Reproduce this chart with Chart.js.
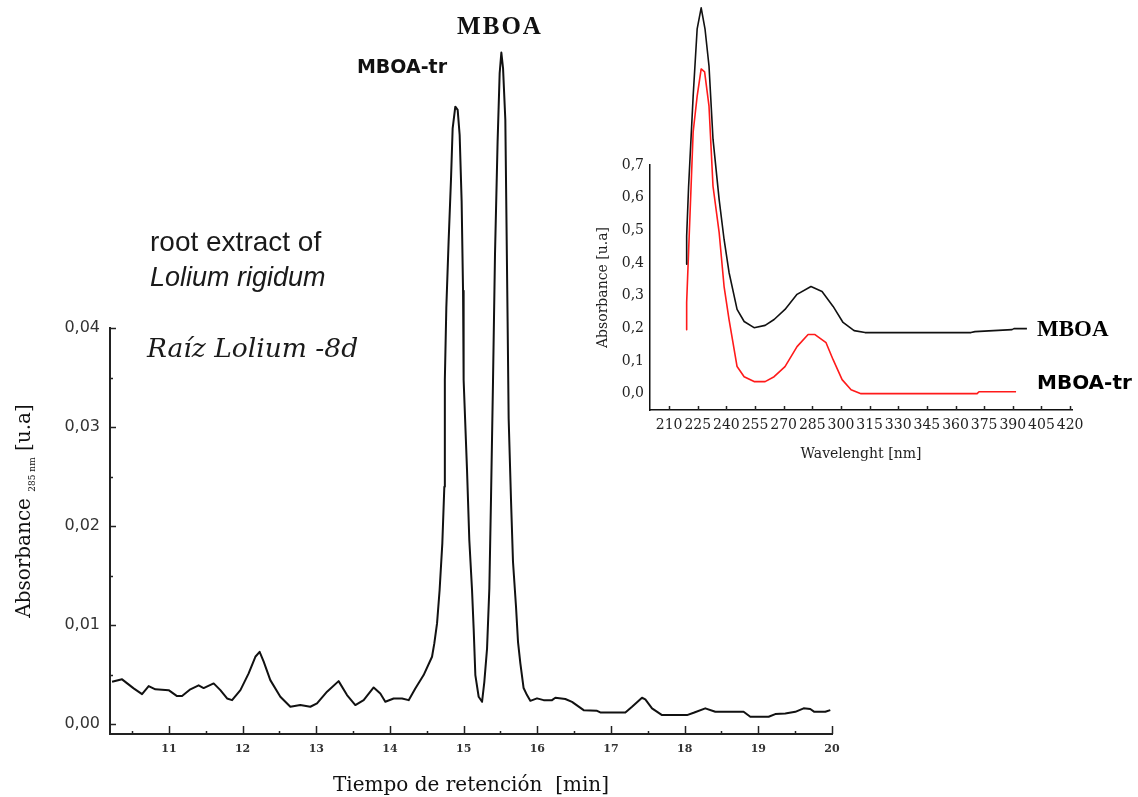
<!DOCTYPE html>
<html>
<head>
<meta charset="utf-8">
<script src="https://cdn.jsdelivr.net/npm/chart.js@4.4.1/dist/chart.umd.min.js"></script>
<style>
  html, body { margin: 0; padding: 0; background: #ffffff; }
  #wrap { position: relative; width: 1138px; height: 797px; overflow: hidden; }
  #main { position: absolute; left: 0; top: 0; }
  #inset { position: absolute; left: 580px; top: 0; }
</style>
</head>
<body>
<div id="wrap">
  <canvas id="main" width="1138" height="797"></canvas>
  <canvas id="inset" width="558" height="480"></canvas>
</div>
<script>
// ---- Chromatogram at 285 nm: retention time [min] and absorbance [u.a] ----
const retentionMin = [
  10.228, 10.364, 10.521, 10.635, 10.725, 10.816, 10.996, 11.110, 11.178, 11.291,
  11.403, 11.471, 11.607, 11.698, 11.789, 11.857, 11.970, 12.082, 12.173, 12.231,
  12.286, 12.376, 12.512, 12.648, 12.783, 12.919, 13.010, 13.146, 13.303, 13.417,
  13.530, 13.643, 13.779, 13.869, 13.937, 14.050, 14.164, 14.254, 14.344, 14.457,
  14.571, 14.602, 14.639, 14.674, 14.711, 14.738, 14.745, 14.765, 14.796, 14.829,
  14.851, 14.887, 14.919, 14.946, 14.973, 14.992, 15.000, 15.046, 15.077, 15.114,
  15.136, 15.159, 15.204, 15.250, 15.281, 15.318, 15.349, 15.372, 15.399, 15.426,
  15.461, 15.489, 15.512, 15.535, 15.566, 15.597, 15.611, 15.643, 15.670, 15.711,
  15.738, 15.770, 15.814, 15.860, 15.905, 15.996, 16.086, 16.200, 16.245, 16.380,
  16.471, 16.629, 16.811, 16.855, 17.195, 17.286, 17.421, 17.466, 17.557, 17.693,
  18.032, 18.122, 18.280, 18.416, 18.800, 18.891, 19.140, 19.230, 19.366, 19.502,
  19.615, 19.705, 19.760, 19.909, 19.977
];
const absorbance285 = [
  0.00427, 0.00452, 0.00361, 0.00303, 0.00384, 0.00351, 0.00343, 0.00283, 0.00283, 0.00351,
  0.00391, 0.00364, 0.00411, 0.00343, 0.00259, 0.00242, 0.00343, 0.00512, 0.00680, 0.00730,
  0.00630, 0.00444, 0.00276, 0.00175, 0.00192, 0.00175, 0.00209, 0.00327, 0.00434, 0.00293,
  0.00192, 0.00242, 0.00370, 0.00310, 0.00226, 0.00259, 0.00259, 0.00242, 0.00360, 0.00495,
  0.00680, 0.00815, 0.01017, 0.01354, 0.01828, 0.02397, 0.03475, 0.04202, 0.04872, 0.05512,
  0.06017, 0.06235, 0.06202, 0.05949, 0.05276, 0.04377, 0.03475, 0.02566, 0.01859, 0.01354,
  0.00967, 0.00495, 0.00276, 0.00225, 0.00427, 0.00765, 0.01371, 0.02296, 0.03475, 0.04754,
  0.05882, 0.06573, 0.06781, 0.06623, 0.06101, 0.04064, 0.03088, 0.02263, 0.01639, 0.01185,
  0.00831, 0.00613, 0.00364, 0.00293, 0.00235, 0.00260, 0.00242, 0.00242, 0.00266, 0.00253,
  0.00225, 0.00141, 0.00134, 0.00118, 0.00118, 0.00175, 0.00266, 0.00249, 0.00159, 0.00091,
  0.00091, 0.00114, 0.00159, 0.00124, 0.00124, 0.00074, 0.00074, 0.00101, 0.00108, 0.00124,
  0.00159, 0.00152, 0.00124, 0.00124, 0.00141
];

// ---- UV spectra of the two peaks: wavelength [nm] and absorbance [u.a] ----
const wavelengthMBOA = [
  218.9, 219.2, 220.2, 222.6, 224.7, 226.8, 228.8, 230.9, 233.0, 236.2,
  238.8, 241.4, 245.6, 249.3, 254.5, 260.3, 265.0, 270.7, 277.0, 284.3,
  290.1, 295.9, 301.1, 306.9, 312.6, 368.1, 370.2, 389.6, 390.6, 397.4
];
const absorbanceMBOA = [
  0.396, 0.482, 0.632, 0.911, 1.117, 1.181, 1.117, 1.003, 0.779, 0.595,
  0.472, 0.371, 0.258, 0.221, 0.202, 0.209, 0.227, 0.258, 0.304, 0.328,
  0.313, 0.267, 0.218, 0.193, 0.187, 0.187, 0.190, 0.196, 0.199, 0.199
];
const wavelengthMBOAtr = [
  218.9, 219.2, 220.2, 222.6, 224.7, 226.8, 228.6, 230.9, 233.0, 236.2,
  238.8, 241.4, 245.6, 249.3, 254.5, 260.3, 265.0, 270.7, 277.0, 282.8,
  286.4, 292.2, 295.9, 300.6, 305.3, 310.5, 371.3, 372.3, 391.7
];
const absorbanceMBOAtr = [
  0.196, 0.279, 0.433, 0.801, 0.911, 0.994, 0.985, 0.880, 0.635, 0.494,
  0.328, 0.227, 0.083, 0.052, 0.037, 0.037, 0.052, 0.083, 0.144, 0.181,
  0.181, 0.156, 0.104, 0.043, 0.012, 0.000, 0.000, 0.006, 0.006
];

// Tick values for the axes
const timeTickStep = 0.5;        // labelled every whole minute
const absTickStep = 0.005;       // labelled every 0.01
const wavelengthTickStep = 15;
const spectrumTickStep = 0.1;

const toPoints = (xs, ys) => xs.map((x, i) => ({ x: x, y: ys[i] }));
const isWhole = (v, f) => Math.abs(v * f - Math.round(v * f)) < 1e-6;
const comma = (v, d) => v.toFixed(d).replace('.', ',');

// Tick marks drawn inside the plot frame, major and minor
function inwardTicks(id, spec) {
  return {
    id: id,
    afterDatasetsDraw(chart) {
      const { ctx, chartArea } = chart;
      ctx.save();
      ctx.strokeStyle = '#222';
      ctx.lineWidth = 1.5;
      for (const key of Object.keys(spec)) {
        const scale = chart.scales[key];
        const s = spec[key];
        scale.ticks.forEach(t => {
          const len = s.isMajor(t.value) ? s.major : s.minor;
          const p = Math.round(scale.getPixelForValue(t.value)) + 0.5;
          ctx.beginPath();
          if (key === 'x') {
            ctx.moveTo(p, chartArea.bottom);
            ctx.lineTo(p, chartArea.bottom - len);
          } else {
            ctx.moveTo(chartArea.left, p);
            ctx.lineTo(chartArea.left + len, p);
          }
          ctx.stroke();
        });
      }
      ctx.restore();
    }
  };
}

function label(ctx, text, x, y, font, opts) {
  opts = opts || {};
  ctx.save();
  ctx.font = font;
  ctx.fillStyle = opts.color || '#111';
  ctx.textAlign = opts.align || 'left';
  ctx.textBaseline = 'middle';
  if (opts.spacing) ctx.letterSpacing = opts.spacing;
  ctx.fillText(text, x, y);
  ctx.restore();
}

// Annotations and the y axis title (with subscript) of the chromatogram
const chromatogramNotes = {
  id: 'chromatogramNotes',
  afterDraw(chart) {
    const ctx = chart.ctx;
    label(ctx, 'MBOA', 500, 28, 'bold 25px "Liberation Serif"', { align: 'center', spacing: '2px' });
    label(ctx, 'MBOA-tr', 402, 68, 'bold 19px "DejaVu Sans"', { align: 'center' });
    label(ctx, 'root extract of', 150, 243, '28px "Liberation Sans"', { color: '#1a1a1a' });
    label(ctx, 'Lolium rigidum', 150, 278, 'italic 27px "Liberation Sans"', { color: '#1a1a1a' });
    label(ctx, 'Raíz Lolium -8d', 147, 350, 'italic 26.5px "DejaVu Serif"', { color: '#1a1a1a' });

    // rotated y title: Absorbance 285 nm [u.a]
    const big = '20px "DejaVu Serif"';
    const small = '9px "DejaVu Serif"';
    ctx.save();
    ctx.translate(30, 511);
    ctx.rotate(-Math.PI / 2);
    ctx.fillStyle = '#111';
    ctx.textBaseline = 'alphabetic';
    ctx.textAlign = 'left';
    const parts = [
      { t: 'Absorbance ', f: big, dy: 0 },
      { t: '285 nm', f: small, dy: 5 },
      { t: ' [u.a]', f: big, dy: 0 }
    ];
    let total = 0;
    parts.forEach(p => { ctx.font = p.f; p.w = ctx.measureText(p.t).width; total += p.w; });
    let x = -total / 2;
    parts.forEach(p => { ctx.font = p.f; ctx.fillText(p.t, x, p.dy); x += p.w; });
    ctx.restore();
  }
};

new Chart(document.getElementById('main'), {
  type: 'line',
  data: {
    datasets: [{
      data: toPoints(retentionMin, absorbance285),
      borderColor: '#111',
      borderWidth: 2,
      borderJoinStyle: 'round',
      pointRadius: 0,
      tension: 0,
      fill: false,
      clip: false
    }]
  },
  options: {
    responsive: false,
    animation: false,
    layout: { padding: { top: 328, right: 306, left: 0, bottom: 0 } },
    plugins: { legend: { display: false }, tooltip: { enabled: false } },
    scales: {
      x: {
        type: 'linear',
        min: 10.2,
        max: 20,
        afterFit(s) { s.height = 63; },
        grid: { display: false, drawTicks: false },
        border: { display: true, color: '#222', width: 2 },
        ticks: {
          stepSize: timeTickStep,
          includeBounds: false,
          autoSkip: false,
          maxRotation: 0,
          padding: 9,
          color: '#333',
          font: { family: 'DejaVu Serif', size: 11, weight: 'bold' },
          callback: v => (isWhole(v, 1) ? String(Math.round(v)) : '')
        },
        title: {
          display: true,
          text: 'Tiempo de retención  [min]',
          color: '#111',
          font: { family: 'DejaVu Serif', size: 20, lineHeight: 1 },
          padding: { top: 0, bottom: 1 }
        }
      },
      y: {
        type: 'linear',
        min: -0.001,
        max: 0.04,
        afterFit(s) { s.width = 110; },
        grid: { display: false, drawTicks: false },
        border: { display: true, color: '#222', width: 2 },
        ticks: {
          stepSize: absTickStep,
          includeBounds: false,
          autoSkip: false,
          padding: 10,
          color: '#333',
          font: { family: 'DejaVu Sans', size: 16 },
          callback: v => (isWhole(v, 100) ? comma(v, 2) : '')
        }
      }
    }
  },
  plugins: [
    inwardTicks('chromTicks', {
      x: { isMajor: v => isWhole(v, 1), major: 8, minor: 3 },
      y: { isMajor: v => isWhole(v, 100), major: 6, minor: 3 }
    }),
    chromatogramNotes
  ]
});

// Labels next to the end of each spectrum
const spectrumNotes = {
  id: 'spectrumNotes',
  afterDraw(chart) {
    const ctx = chart.ctx;
    label(ctx, 'MBOA', 457, 330, 'bold 23px "Liberation Serif"', { color: '#000' });
    label(ctx, 'MBOA-tr', 457, 384, 'bold 20px "DejaVu Sans"', { color: '#000' });
  }
};

new Chart(document.getElementById('inset'), {
  type: 'line',
  data: {
    datasets: [
      {
        label: 'MBOA',
        data: toPoints(wavelengthMBOA, absorbanceMBOA),
        borderColor: '#111',
        borderWidth: 1.6,
        borderJoinStyle: 'round',
        pointRadius: 0,
        tension: 0,
        fill: false,
        clip: false
      },
      {
        label: 'MBOA-tr',
        data: toPoints(wavelengthMBOAtr, absorbanceMBOAtr),
        borderColor: '#ff1a1a',
        borderWidth: 1.6,
        borderJoinStyle: 'round',
        pointRadius: 0,
        tension: 0,
        fill: false,
        clip: false
      }
    ]
  },
  options: {
    responsive: false,
    animation: false,
    layout: { padding: { top: 165, right: 66, left: 0, bottom: 0 } },
    plugins: { legend: { display: false }, tooltip: { enabled: false } },
    scales: {
      x: {
        type: 'linear',
        min: 200,
        max: 421,
        afterFit(s) { s.height = 70; },
        grid: { display: false, drawTicks: false },
        border: { display: true, color: '#111', width: 1.5 },
        ticks: {
          stepSize: wavelengthTickStep,
          includeBounds: false,
          autoSkip: false,
          maxRotation: 0,
          padding: 7,
          color: '#222',
          font: { family: 'DejaVu Serif', size: 14 }
        },
        title: {
          display: true,
          text: 'Wavelenght [nm]',
          color: '#222',
          font: { family: 'DejaVu Serif', size: 14 },
          padding: { top: 0, bottom: 17 }
        }
      },
      y: {
        type: 'linear',
        min: -0.05,
        max: 0.7,
        afterFit(s) { s.width = 70; },
        grid: { display: false, drawTicks: false },
        border: { display: true, color: '#111', width: 1.5 },
        ticks: {
          stepSize: spectrumTickStep,
          includeBounds: false,
          autoSkip: false,
          padding: 6,
          color: '#222',
          font: { family: 'DejaVu Serif', size: 14 },
          callback: v => comma(v, 1)
        },
        title: {
          display: true,
          text: 'Absorbance [u.a]',
          color: '#222',
          font: { family: 'DejaVu Serif', size: 14 },
          padding: { top: 15, bottom: 0 }
        }
      }
    }
  },
  plugins: [
    inwardTicks('spectrumTicks', {
      x: { isMajor: () => true, major: 4, minor: 4 }
    }),
    spectrumNotes
  ]
});
</script>
</body>
</html>
